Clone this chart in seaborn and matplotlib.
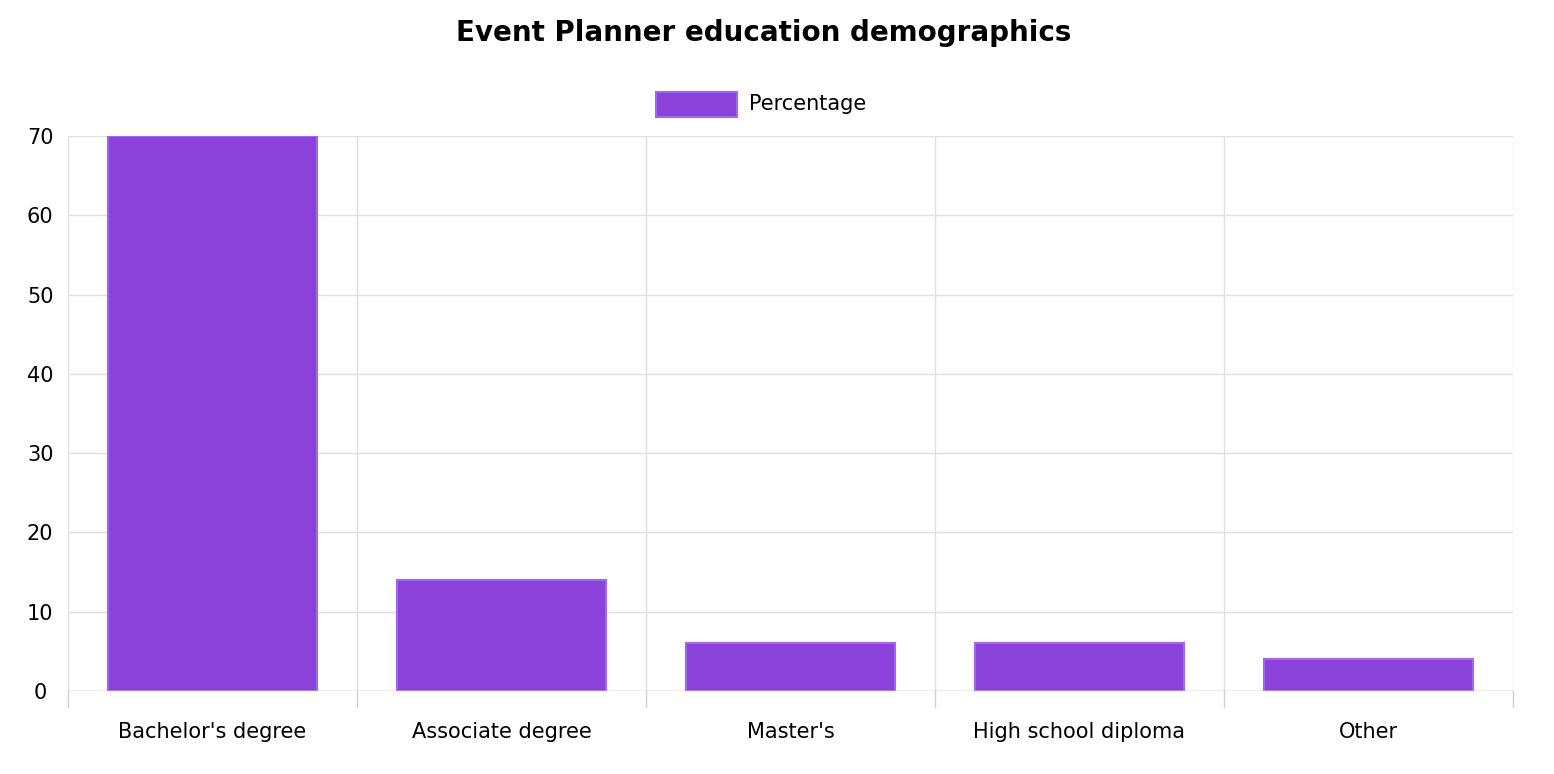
import matplotlib
matplotlib.use("Agg")
import matplotlib.pyplot as plt
import seaborn as sns
import pandas as pd

categories = ["Bachelor's degree", "Associate degree", "Master's", "High school diploma", "Other"]
percentages = [70, 14, 6, 6, 4]
y_ticks = [0, 10, 20, 30, 40, 50, 60, 70]

df = pd.DataFrame({"cat": categories, "pct": percentages})
W, H = 1554, 774
fig = plt.figure(figsize=(W/100, H/100), dpi=100)
ax = fig.add_axes([68/W, 1-691/H, (1513-68)/W, (691-136)/H])
sns.barplot(data=df, x="cat", y="pct", ax=ax, color="#8A42DB", width=0.72,
            saturation=1, edgecolor="#A066F0", linewidth=1.5, zorder=3)
ax.set_ylim(0, 70)
ax.set_xlim(-0.5, len(categories)-0.5)
ax.set_yticks(y_ticks)
ax.set_xlabel(""); ax.set_ylabel("")
ax.grid(axis="y", color="#e0e0e0", linewidth=1, zorder=0)
for i in range(len(categories)+1):
    ax.axvline(i-0.5, color="#e0e0e0", linewidth=1, zorder=0)
    ax.plot([i-0.5, i-0.5], [0, -2], color="#d0d0d0", lw=1, clip_on=False)
for s in ax.spines.values():
    s.set_visible(False)
ax.axhline(0, color="#c8c8c8", lw=1, zorder=4)
ax.tick_params(axis="both", length=0, labelsize=15, colors="black")
ax.tick_params(axis="x", pad=22)
ax.tick_params(axis="y", pad=20)
for t in ax.get_yticklabels():
    t.set_horizontalalignment("center")
ax.yaxis.set_tick_params(pad=20)
fig.text(764/W, 1-33/H, "Event Planner education demographics", ha="center", va="center",
         fontsize=20, fontweight="bold")
fig.patches.append(plt.Rectangle((656/W, 1-117/H), 81/W, 25/H, transform=fig.transFigure,
                                 facecolor="#8A42DB", edgecolor="#A066F0", lw=1.5))
fig.text(749/W, 1-104/H, "Percentage", ha="left", va="center", fontsize=15)
fig.savefig("out.png", dpi=100)
